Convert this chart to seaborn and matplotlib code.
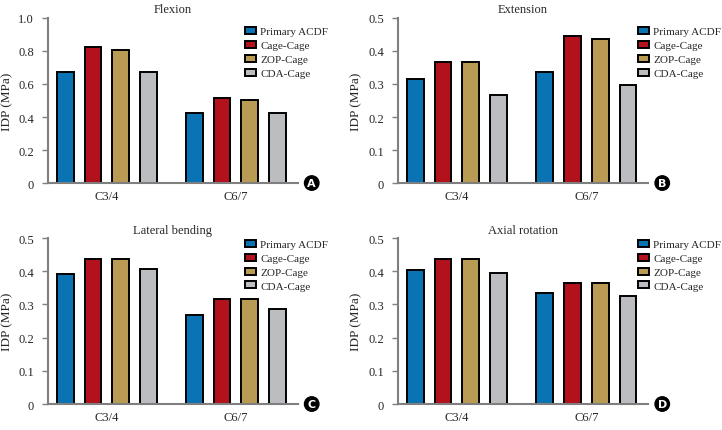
import pandas as pd
import matplotlib
matplotlib.use("Agg")
import matplotlib.pyplot as plt
import seaborn as sns
from matplotlib.ticker import FuncFormatter, MultipleLocator

levels = ["C3/4", "C6/7"]
groups = ["Primary ACDF", "Cage-Cage", "ZOP-Cage", "CDA-Cage"]
colors = ["#0a73b4", "#b3121c", "#b99b53", "#bcbdc0"]

flexion_c34 = [0.675, 0.825, 0.805, 0.675]
flexion_c67 = [0.425, 0.515, 0.505, 0.425]
extension_c34 = [0.316, 0.366, 0.366, 0.266]
extension_c67 = [0.336, 0.446, 0.436, 0.296]
lateral_c34 = [0.393, 0.436, 0.436, 0.406]
lateral_c67 = [0.269, 0.316, 0.316, 0.286]
axial_c34 = [0.403, 0.436, 0.436, 0.396]
axial_c67 = [0.333, 0.366, 0.366, 0.326]

panels = [
    ("Flexion", "A", flexion_c34, flexion_c67, 1.0, 0.2),
    ("Extension", "B", extension_c34, extension_c67, 0.5, 0.1),
    ("Lateral bending", "C", lateral_c34, lateral_c67, 0.5, 0.1),
    ("Axial rotation", "D", axial_c34, axial_c67, 0.5, 0.1),
]

sns.set_style("white")
plt.rcParams["font.family"] = ["Liberation Serif", "DejaVu Serif"]
plt.rcParams["font.size"] = 8.5

fig = plt.figure(figsize=(7.22, 4.31), dpi=100)
positions = [
    [0.0665, 0.573, 0.346, 0.383],
    [0.551, 0.573, 0.347, 0.383],
    [0.0665, 0.0603, 0.346, 0.385],
    [0.551, 0.0603, 0.347, 0.385],
]
legend_anchor = [(0.79, 0.945), (0.96, 0.945), (0.79, 0.99), (0.96, 0.99)]

for (title, letter, c34, c67, ymax, step), pos, anc in zip(panels, positions, legend_anchor):
    df = pd.DataFrame({
        "level": [levels[0]] * 4 + [levels[1]] * 4,
        "group": groups * 2,
        "idp": c34 + c67,
    })
    ax = fig.add_axes(pos)
    sns.barplot(data=df, x="level", y="idp", hue="group", hue_order=groups,
                palette=colors, saturation=1, width=0.86, gap=0.4,
                edgecolor="black", linewidth=1.4, ax=ax)
    ax.set_xlim(-0.457, 1.48)
    ax.set_ylim(0, ymax)
    ax.yaxis.set_major_locator(MultipleLocator(step))
    ax.yaxis.set_major_formatter(FuncFormatter(lambda v, p: "0" if abs(v) < 1e-9 else f"{v:.1f}"))
    sns.despine(ax=ax)
    for s in ["left", "bottom"]:
        ax.spines[s].set_color("#7f7f7f")
        ax.spines[s].set_linewidth(1.5)
    ax.spines["bottom"].set_zorder(5)
    ax.tick_params(axis="y", direction="out", length=4, width=1, color="#7f7f7f",
                   left=True, labelsize=9, pad=6)
    ax.tick_params(axis="x", length=0, labelsize=9, pad=5)
    ax.set_xlabel("")
    ax.set_ylabel("IDP (MPa)", fontsize=9.5, labelpad=4)
    ax.set_title(title, fontsize=9, pad=4)
    ax.legend(loc="upper left", bbox_to_anchor=anc, frameon=False, fontsize=8,
              borderpad=0, borderaxespad=0, handlelength=0.95, handleheight=0.6,
              handletextpad=0.4, labelspacing=0.4)
    ax.annotate(letter, xy=(1, 0), xycoords="axes fraction", xytext=(10, 0),
                textcoords="offset points", ha="center", va="center",
                fontsize=8, fontweight="bold", color="white",
                family="DejaVu Sans", annotation_clip=False,
                bbox=dict(boxstyle="circle,pad=0.2", fc="black", ec="black"))

fig.savefig("out.png", dpi=100)
